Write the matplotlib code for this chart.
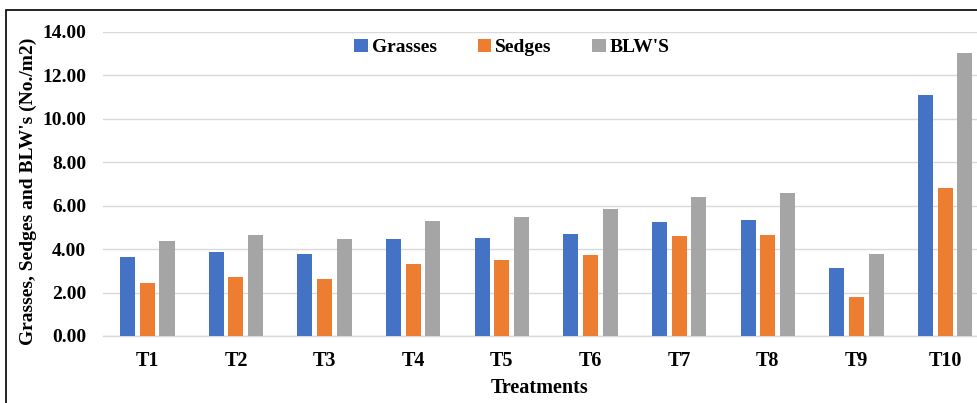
import matplotlib.pyplot as plt
import numpy as np
from matplotlib.patches import Rectangle

treatments = ["T1", "T2", "T3", "T4", "T5", "T6", "T7", "T8", "T9", "T10"]
grasses = [3.65, 3.88, 3.79, 4.45, 4.53, 4.70, 5.27, 5.35, 3.12, 11.09]
sedges = [2.46, 2.72, 2.64, 3.32, 3.50, 3.75, 4.62, 4.65, 1.78, 6.81]
blws = [4.36, 4.65, 4.48, 5.31, 5.47, 5.84, 6.42, 6.60, 3.76, 13.04]

series = [("Grasses", grasses, "#4472C4"),
          ("Sedges", sedges, "#ED7D31"),
          ("BLW'S", blws, "#A5A5A5")]

plt.rcParams['font.family'] = ['Liberation Serif', 'DejaVu Serif']
plt.rcParams['font.weight'] = 'bold'

fig = plt.figure(figsize=(9.77, 4.03), dpi=100)
ax = fig.add_axes([0.1054, 0.1663, 0.8946, 0.7543])

x = np.arange(len(treatments))
step = 0.222
for i, (name, vals, col) in enumerate(series):
    ax.bar(x + (i - 1) * step, vals, width=0.17, color=col, label=name, zorder=3)

ax.set_xlim(-0.5, 9.36)
ax.set_ylim(0, 14)
ax.set_yticks(np.arange(0, 15, 2))
ax.set_yticklabels([f"{v:.2f}" for v in np.arange(0, 15, 2)], fontsize=14, fontweight='bold')
ax.set_xticks(x)
ax.set_xticklabels(treatments, fontsize=14.5, fontweight='bold')
ax.tick_params(axis='both', length=0)
ax.tick_params(axis='y', pad=12)
ax.tick_params(axis='x', pad=11)

ax.grid(axis='y', color='#d9d9d9', linewidth=1.0, zorder=0)
for s in ['top', 'right', 'left']:
    ax.spines[s].set_visible(False)
ax.spines['bottom'].set_color('#d9d9d9')
ax.spines['bottom'].set_linewidth(1.0)

ax.set_xlabel("Treatments", fontsize=14.5, fontweight='bold', labelpad=5)
ax.set_ylabel("Grasses, Sedges and BLW's (No./m2)", fontsize=14, fontweight='bold')
ax.yaxis.set_label_coords(-0.076, 0.477)

ax.legend(loc='upper center', bbox_to_anchor=(0.468, 1.035), ncol=3, frameon=False,
          handlelength=0.7, handleheight=0.7, handletextpad=0.2,
          columnspacing=2.1, prop={'weight': 'bold', 'size': 14})

# outer frame
fig.patches.append(Rectangle((6 / 977, -0.01), 1.0, (403 - 10) / 403 + 0.01,
                             transform=fig.transFigure, fill=False,
                             edgecolor='black', linewidth=1.2))

fig.savefig("out.png", dpi=100)
